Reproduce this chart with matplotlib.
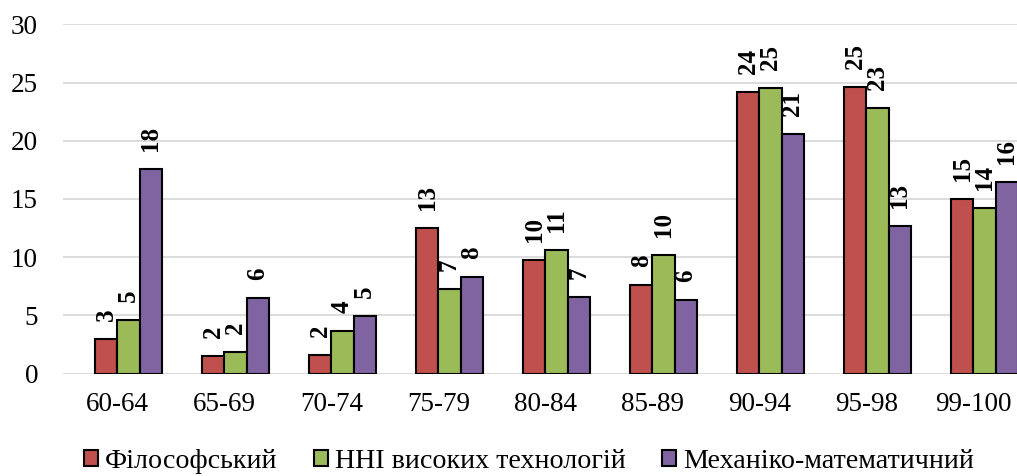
import matplotlib.pyplot as plt
import numpy as np

categories = ['60-64', '65-69', '70-74', '75-79', '80-84', '85-89', '90-94', '95-98', '99-100']
series_names = ['Філософський', 'ННІ високих технологій', 'Механіко-математичний']

phil = [3.0, 1.55, 1.6, 12.52, 9.79, 7.59, 24.18, 24.61, 14.97]
hitech = [4.6, 1.86, 3.69, 7.3, 10.64, 10.16, 24.52, 22.83, 14.22]
mech = [17.55, 6.47, 4.95, 8.27, 6.58, 6.35, 20.58, 12.68, 16.43]

colors = ['#C0504D', '#9BBB59', '#8064A2']

plt.rcParams['font.family'] = ['Liberation Serif', 'DejaVu Serif']

fig = plt.figure(figsize=(10.17, 4.76), dpi=100)
ax = fig.add_axes([63 / 1017, 1 - 373.7 / 476, 1 - 63 / 1017, (373.7 - 24.3) / 476])

x = np.arange(len(categories))
w = 0.207
for k, (vals, name, col) in enumerate(zip([phil, hitech, mech], series_names, colors)):
    bars = ax.bar(x + (k - 0.5) * w, vals, width=w, color=col, edgecolor='black',
                  linewidth=1.5, label=name, zorder=3)
    for b, v in zip(bars, vals):
        ax.annotate(f'{v:.0f}', (b.get_x() + b.get_width() / 2, b.get_height()),
                    xytext=(0, 13), textcoords='offset points', rotation=90,
                    ha='center', va='bottom', fontsize=18, fontweight='bold')

ax.set_ylim(0, 30)
ax.set_yticks(np.arange(0, 31, 5))
ax.set_xlim(-0.509, 8.407)
ax.set_xticks(x)
ax.set_xticklabels(categories)
ax.grid(axis='y', color='#D9D9D9', linewidth=1.3, zorder=0)
ax.set_axisbelow(True)
for s in ax.spines.values():
    s.set_visible(False)
ax.tick_params(axis='x', length=0, pad=13, labelsize=19.5)
ax.tick_params(axis='y', length=0, pad=18, labelsize=19.5)

fig.legend(loc='center', bbox_to_anchor=(0.52, 0.03), ncol=3, frameon=False,
           prop={'family': ['Liberation Serif', 'DejaVu Serif'], 'size': 20.2},
           handlelength=0.5, handleheight=0.5, handletextpad=0.25,
           columnspacing=1.3)

fig.savefig('out.png', dpi=100)
